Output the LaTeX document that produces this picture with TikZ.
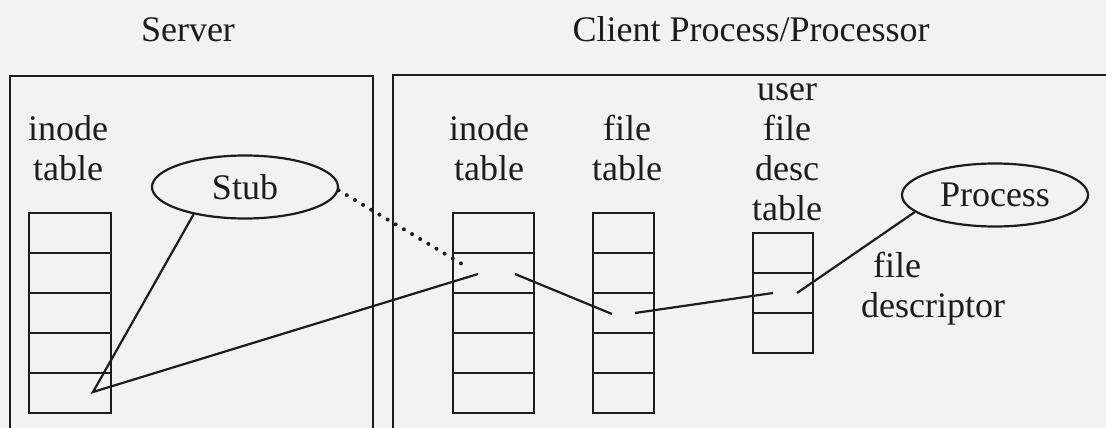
\documentclass[tikz,border=0pt]{standalone}
\usepackage{fontspec}
\setmainfont{Liberation Serif}
\usetikzlibrary{shapes.geometric}
\definecolor{bg}{RGB}{242,242,242}
\definecolor{ink}{RGB}{28,28,28}
\begin{document}
\begin{tikzpicture}[x=1pt,y=-1pt,
  line width=2.2pt, draw=ink, text=ink,
  every node/.style={font=\fontsize{36}{40}\selectfont},
  lab/.style={anchor=base, inner sep=0pt},
  cell/.style={draw=ink, line width=2.2pt, rectangle, inner sep=0pt, minimum height=40pt},
  oval/.style={draw=ink, line width=2.2pt, ellipse, inner sep=0pt, minimum width=186pt, minimum height=63pt},
  conn/.style={draw=ink, line width=2.2pt},
  dots/.style={draw=ink, line width=4pt, line cap=round, dash pattern=on 0pt off 9.5pt}]
\fill[bg] (0,0) rectangle (1106,428);
\useasboundingbox (0,0) rectangle (1106,428);
% containers
\draw (10,428) -- (10,76) -- (373,76) -- (373,428);
\draw (393,428) -- (393,75) -- (1106,75);
% titles
\node[lab] (tserver) at (188,42) {Server};
\node[lab] (tclient) at (751,42) {Client Process/Processor};
% table labels
\node[lab] (lsi) at (68,180) {\begin{tabular}[b]{@{}c@{}}inode\\table\end{tabular}};
\node[lab] (lci) at (489,180) {\begin{tabular}[b]{@{}c@{}}inode\\table\end{tabular}};
\node[lab] (lft) at (627,180) {\begin{tabular}[b]{@{}c@{}}file\\table\end{tabular}};
\node[lab] (luf) at (787,220) {\begin{tabular}[b]{@{}c@{}}user\\file\\desc\\table\end{tabular}};
\node[lab, anchor=base west] (lfd) at (860,317) {\begin{tabular}[b]{@{}l@{}}\hspace*{12pt}file\\descriptor\end{tabular}};
% tables
\foreach \i in {1,...,5} {
  \node[cell, minimum width=82pt] (s\i) at (70,193+40*\i) {};
  \node[cell, minimum width=81pt] (c\i) at (493.5,193+40*\i) {};
  \node[cell, minimum width=61pt] (f\i) at (623.5,193+40*\i) {};
}
\foreach \i in {1,...,3} {
  \node[cell, minimum width=60pt] (u\i) at (783,213+40*\i) {};
}
% ellipses
\node[oval] (stub) at (245,187) {Stub};
\node[oval] (proc) at (995,195) {Process};
% connector points inside cells
\coordinate (sp) at (93,392);
\coordinate (ci1) at (478,274);
\coordinate (ci2) at (515,274);
\coordinate (cid) at (467,267);
\coordinate (ft1) at (612,314);
\coordinate (ft2) at (635,313);
\coordinate (uf1) at (773,293);
\coordinate (uf2) at (797,293);
% connectors
\draw[conn] (stub.208) -- (sp) -- (ci1);
\draw[dots] (stub.358) -- (cid);
\draw[conn] (ci2) -- (ft1);
\draw[conn] (ft2) -- (uf1);
\draw[conn] (proc.192) -- (uf2);
\end{tikzpicture}
\end{document}
